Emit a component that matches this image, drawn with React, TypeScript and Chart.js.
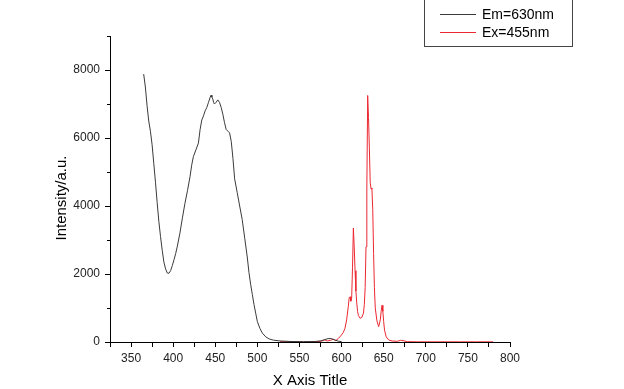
import React, { useEffect, useRef } from "react";
import { Chart, registerables } from "chart.js";

Chart.register(...registerables);

const emLabel = "Em=630nm";
const exLabel = "Ex=455nm";
const xTitle = "X Axis Title";
const yTitle = "Intensity/a.u.";

const xMin = 325;
const xMax = 800;
const yMin = 0;
const yMax = 9000;
const xMajorStep = 50;
const xMinorStep = 25;
const yMajorStep = 2000;
const yMinorStep = 1000;

// Excitation spectrum (monitored at 630 nm)
const emX = [
  365, 367, 369, 371, 373, 375, 377, 379, 381, 383, 385, 387, 389, 391, 393, 395, 397, 399, 401, 403,
  405, 408, 411, 414, 417, 420, 422, 424, 427, 430, 432, 434, 436, 438, 440, 442, 444, 445, 446, 447,
  448, 449, 451, 453, 455, 457, 459, 461, 463, 465, 467, 469, 471, 473, 476, 479, 482, 485, 488, 490,
  492, 494, 496, 498, 500, 503, 506, 510, 514, 519, 527, 540, 555, 568, 575, 580, 584, 588, 592, 596, 600,
];
const emY = [
  7880, 7500, 6950, 6500, 6200, 5800, 5250, 4700, 4100, 3550, 3100, 2700, 2350, 2150, 2030, 2020, 2100, 2250, 2420, 2600,
  2820, 3200, 3650, 4080, 4450, 4860, 5200, 5450, 5650, 5850, 6250, 6530, 6650, 6800, 6900, 7050, 7200, 7260, 7200, 7150,
  7050, 7000, 7050, 7120, 7050, 6900, 6700, 6450, 6250, 6200, 6150, 5900, 5400, 4800, 4400, 4000, 3600, 3050, 2500, 2050,
  1700, 1400, 1100, 850, 600, 400, 260, 150, 90, 55, 30, 15, 10, 15, 30, 70, 100, 100, 60, 25, 10,
];

// Emission spectrum (excited at 455 nm)
const exX = [
  527, 540, 555, 570, 576, 580, 583, 587, 590, 593, 596, 599, 602, 604, 606, 608, 609, 610, 611, 612,
  613, 614, 615, 616, 617, 618, 619, 620, 622, 624, 626, 627, 628, 629, 630, 631, 632, 633, 634, 635,
  636, 637, 638, 639, 640, 642, 644, 646, 647, 648, 649, 650, 651, 653, 656, 660, 666, 670, 673, 678,
  690, 710, 740, 760, 780,
];
const exY = [
  10, 10, 5, 10, 25, 60, 30, 50, 80, 40, 100, 180, 280, 400, 650, 1050, 1300, 1330, 1200, 1300,
  2200, 3350, 2800, 2100, 1500, 1150, 900, 780, 700, 720, 850, 1100, 1600, 2800, 4500, 7250, 6600, 5700, 4700, 4500,
  4530, 3900, 2600, 1600, 1000, 620, 450, 650, 900, 1080, 900, 600, 350, 150, 60, 30, 20, 50, 40, 10,
  5, 5, 5, 5, 5,
];

const emColor = "#3a3a3a";
const exColor = "rgb(236,40,50)";
const FONT = "Arial, 'Liberation Sans', sans-serif";

const overlayPlugin = {
  id: "overlay",
  afterDraw(chart: any) {
    const ctx = chart.ctx as CanvasRenderingContext2D;
    const yScale = chart.scales.y;
    const xScale = chart.scales.x;
    ctx.save();
    // minor y ticks (shorter)
    ctx.strokeStyle = "#000";
    ctx.lineWidth = 1;
    for (let v = yMin; v <= yMax; v += yMinorStep) {
      if (v % yMajorStep === 0) continue;
      const py = Math.round(yScale.getPixelForValue(v)) + 0.5;
      ctx.beginPath();
      ctx.moveTo(xScale.left - 3, py);
      ctx.lineTo(xScale.left, py);
      ctx.stroke();
    }
    // axis titles
    ctx.fillStyle = "#000";
    ctx.font = `15px ${FONT}`;
    ctx.textAlign = "center";
    ctx.textBaseline = "middle";
    ctx.fillText(xTitle, (chart.chartArea.left + chart.chartArea.right) / 2, 381);
    ctx.save();
    ctx.translate(62, 198);
    ctx.rotate(-Math.PI / 2);
    ctx.fillText(yTitle, 0, 0);
    ctx.restore();
    // legend box
    ctx.strokeStyle = "#444";
    ctx.lineWidth = 1;
    ctx.strokeRect(424.5, -0.5, 148, 47);
    const items = chart.data.datasets;
    items.forEach((ds: any, i: number) => {
      const ly = 14 + i * 18;
      ctx.strokeStyle = ds.borderColor;
      ctx.lineWidth = 1;
      ctx.beginPath();
      ctx.moveTo(440, ly + 0.5);
      ctx.lineTo(476, ly + 0.5);
      ctx.stroke();
      ctx.fillStyle = "#000";
      ctx.font = `14px ${FONT}`;
      ctx.textAlign = "left";
      ctx.textBaseline = "middle";
      ctx.fillText(ds.label, 482, ly + 1);
    });
    ctx.restore();
  },
};

export default function App() {
  const canvasRef = useRef<HTMLCanvasElement | null>(null);

  useEffect(() => {
    if (!canvasRef.current) return;
    const chart = new Chart(canvasRef.current, {
      type: "line",
      data: {
        datasets: [
          {
            label: emLabel,
            data: emX.map((x, i) => ({ x, y: emY[i] })),
            borderColor: emColor,
            borderWidth: 1,
            pointRadius: 0,
            tension: 0,
            fill: false,
          },
          {
            label: exLabel,
            data: exX.map((x, i) => ({ x, y: exY[i] })),
            borderColor: exColor,
            borderWidth: 1,
            pointRadius: 0,
            tension: 0,
            fill: false,
          },
        ],
      },
      options: {
        animation: false,
        responsive: false,
        maintainAspectRatio: false,
        layout: { padding: { left: 0, right: 114, top: 36, bottom: 0 } },
        plugins: {
          legend: { display: false },
          tooltip: { enabled: false },
        },
        scales: {
          x: {
            type: "linear",
            min: xMin,
            max: xMax,
            ticks: {
              stepSize: xMinorStep,
              autoSkip: false,
              maxRotation: 0,
              minRotation: 0,
              padding: 4,
              color: "#222",
              font: { family: FONT, size: 12 },
              callback: (v: any) => (Number(v) % xMajorStep === 0 ? String(v) : ""),
            },
            grid: {
              drawOnChartArea: false,
              drawTicks: true,
              tickLength: 5,
              tickColor: "#000",
              color: "#000",
            },
            border: { display: true, color: "#000", width: 1 },
            afterFit: (s: any) => {
              s.height = 47;
            },
          },
          y: {
            type: "linear",
            min: yMin,
            max: yMax,
            ticks: {
              stepSize: yMinorStep,
              autoSkip: false,
              padding: 5,
              color: "#222",
              font: { family: FONT, size: 12 },
              callback: (v: any) => (Number(v) % yMajorStep === 0 ? String(v) : ""),
            },
            grid: {
              drawOnChartArea: false,
              drawTicks: true,
              tickLength: 5,
              tickColor: (c: any) => (c.tick && c.tick.value % yMajorStep === 0 ? "#000" : "rgba(0,0,0,0)"),
              color: "#000",
            },
            border: { display: true, color: "#000", width: 1 },
            afterFit: (s: any) => {
              s.width = 110;
            },
          },
        },
      },
      plugins: [overlayPlugin],
    });
    return () => chart.destroy();
  }, []);

  return (
    <div style={{ position: "absolute", left: 0, top: 0, width: 624, height: 389, background: "#fff" }}>
      <canvas ref={canvasRef} width={624} height={389} style={{ display: "block" }} />
    </div>
  );
}
